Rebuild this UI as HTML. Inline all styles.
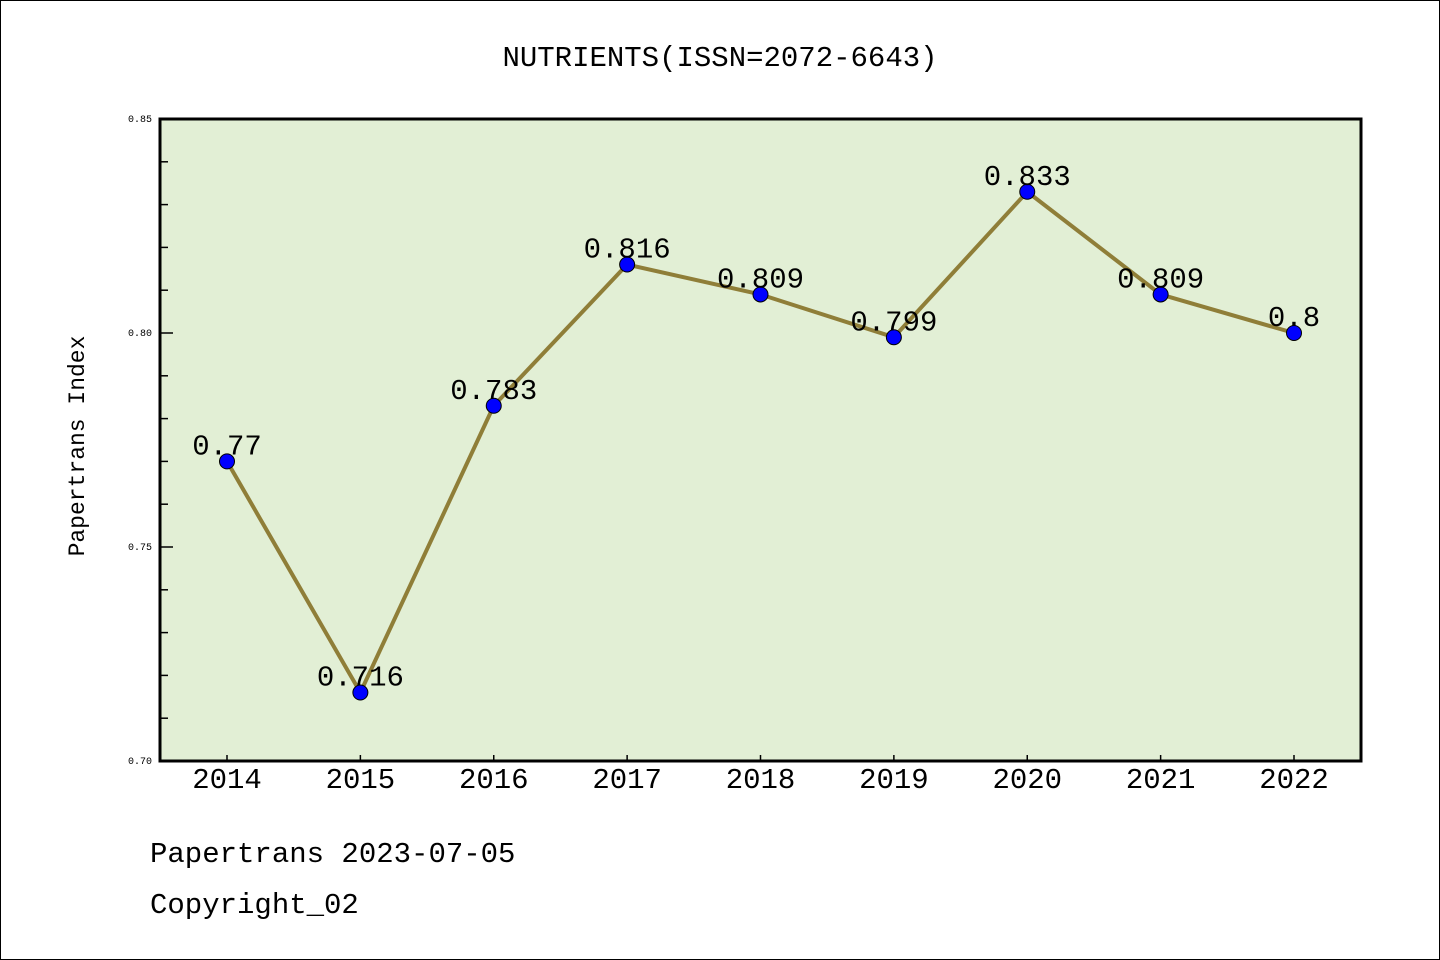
<!DOCTYPE html>
<html><head><meta charset="utf-8"><style>
body{margin:0;background:#fff}
svg{display:block}
text{font-family:"Liberation Mono","Noto Sans CJK SC",monospace}
</style></head><body>
<svg id="c" width="1440" height="960">
<rect x="0.5" y="0.5" width="1439" height="959" fill="#fff" stroke="#000"/>
<text x="720" y="66" font-size="29" text-anchor="middle" font-family="Noto Sans CJK SC, sans-serif">NUTRIENTS(ISSN=2072-6643)</text>
<rect x="160" y="119" width="1201" height="642" fill="#e2efd5" stroke="#000" stroke-width="3"/>
<text transform="translate(84,446) rotate(-90)" font-size="23" text-anchor="middle" font-family="Noto Sans CJK SC, sans-serif">Papertrans Index</text>
<text x="150" y="862" font-size="29" font-family="Noto Sans CJK SC, sans-serif">Papertrans 2023-07-05</text>
<text x="150" y="913" font-size="29" font-family="Noto Sans CJK SC, sans-serif">Copyright_02</text>
<g id="g"></g>
</svg>
<script>
const years=["2014","2015","2016","2017","2018","2019","2020","2021","2022"];
const values=[0.77,0.716,0.783,0.816,0.809,0.799,0.833,0.809,0.8];
const labels=["0.77","0.716","0.783","0.816","0.809","0.799","0.833","0.809","0.8"];
const yTicks=["0.70","0.75","0.80","0.85"];
const NS="http://www.w3.org/2000/svg";
const g=document.getElementById('g');
const X0=160,X1=1361,Y0=761,Y1=119,ymin=0.70,ymax=0.85;
const xs=i=>227+i*(1294-227)/(years.length-1);
const ys=v=>Y0-(v-ymin)/(ymax-ymin)*(Y0-Y1);
function el(t,a){const e=document.createElementNS(NS,t);for(const k in a)e.setAttribute(k,a[k]);g.appendChild(e);return e;}
for(let k=0;k<=15;k++){const v=ymin+k*0.01;const y=ys(v);const major=k%5===0;
 const t=el('line',{x1:X0,x2:X0+(major?13:8),y1:y,y2:y,stroke:'#000','stroke-width':1.5});
 
 }
yTicks.forEach(s=>{const t=el('text',{x:152,y:ys(parseFloat(s))+3,'font-size':10,'text-anchor':'end','font-family':'DejaVu Sans, sans-serif'});t.textContent=s;
 
 });
years.forEach((yr,i)=>{const x=xs(i);
 const t=el('line',{x1:x,x2:x,y1:Y0,y2:Y0-6,stroke:'#000','stroke-width':1.5});
 
 
 const l=el('text',{x:x,y:788,'font-size':29,'text-anchor':'middle','font-family':'Noto Sans CJK SC, sans-serif'});l.textContent=yr;
 
 });
const line=el('polyline',{points:values.map((v,i)=>xs(i)+','+ys(v)).join(' '),fill:'none',stroke:'#8f7e38','stroke-width':4,'stroke-linejoin':'round'});


values.forEach((v,i)=>{
 const c=el('circle',{cx:xs(i),cy:ys(v),r:7.5,fill:'#0000ff',stroke:'#000','stroke-width':1});
 
 
 const t=el('text',{x:xs(i),y:ys(v)-7,'font-size':29,'text-anchor':'middle','font-family':'Noto Sans CJK SC, sans-serif'});t.textContent=labels[i];
 
 
});
</script>
</body></html>
